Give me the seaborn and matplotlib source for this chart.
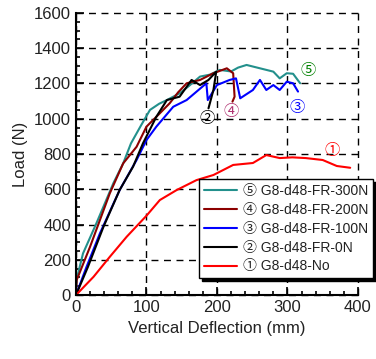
import numpy as np
import pandas as pd
import matplotlib
matplotlib.use("Agg")
import matplotlib.pyplot as plt
import seaborn as sns
from matplotlib.ticker import MultipleLocator

# ---- data ----
labels = ["⑤ G8-d48-FR-300N", "④ G8-d48-FR-200N", "③ G8-d48-FR-100N",
          "② G8-d48-FR-0N", "① G8-d48-No"]
colors = ["#23908c", "#8c0000", "#0000ff", "#000000", "#ff0000"]

x300 = [0, 1, 10, 29, 53, 67, 78, 92, 105, 118, 129, 147, 160, 176, 190, 204, 220, 230, 242, 261, 280, 289, 299, 308, 318]
y300 = [0, 90, 236, 407, 634, 747, 860, 960, 1050, 1085, 1106, 1144, 1185, 1239, 1250, 1277, 1268, 1290, 1305, 1286, 1267, 1229, 1258, 1255, 1201]

x200 = [0, 1, 20, 48, 67, 86, 100, 119, 133, 145, 157, 176, 195, 214, 223, 225, 222]
y200 = [0, 85, 274, 577, 747, 841, 955, 1031, 1088, 1150, 1201, 1220, 1258, 1286, 1258, 1125, 1097]

x100 = [0, 15, 34, 62, 86, 100, 114, 138, 157, 185, 187, 200, 218, 227, 233, 251, 261, 270, 280, 289, 299, 308, 315]
y100 = [0, 160, 350, 596, 766, 879, 955, 1068, 1106, 1201, 1106, 1191, 1220, 1229, 1116, 1163, 1220, 1163, 1191, 1163, 1210, 1201, 1154]

x0 = [0, 17, 39, 62, 81, 95, 114, 129, 147, 164, 176, 188, 199, 195, 188]
y0 = [0, 160, 387, 596, 728, 860, 1011, 1106, 1125, 1220, 1191, 1220, 1267, 1163, 1059]

xno = [0, 25, 48, 72, 100, 119, 143, 171, 195, 223, 251, 270, 289, 307, 326, 350, 370, 389]
yno = [0, 104, 217, 331, 450, 539, 596, 652, 681, 738, 749, 794, 777, 781, 777, 766, 732, 722]

series_x = [x300, x200, x100, x0, xno]
series_y = [y300, y200, y100, y0, yno]

ann_text = ["⑤", "④", "③", "②", "①"]
ann_x = [329, 220, 313, 186, 363]
ann_y = [1268, 1038, 1061, 999, 817]
ann_col = ["#008000", "#b03070", "#0000ff", "#000000", "#ff0000"]

rows = []
for lab, xs, ys in zip(labels, series_x, series_y):
    for i, (a, b) in enumerate(zip(xs, ys)):
        rows.append({"x": a, "y": b, "series": lab, "order": i})
df = pd.DataFrame(rows)

sns.set_style("ticks")
fam = ["Liberation Sans", "Noto Sans CJK SC", "DejaVu Sans"]
plt.rcParams["font.family"] = fam

fig = plt.figure(figsize=(3.76, 3.59), dpi=100)
ax = fig.add_axes([0.202, 0.178, 0.750, 0.786])

sns.lineplot(data=df, x="x", y="y", hue="series", hue_order=labels,
             palette=dict(zip(labels, colors)), sort=False, estimator=None,
             units="series", linewidth=1.5, ax=ax, legend=True)

ax.set_xlim(0, 400)
ax.set_ylim(0, 1600)
ax.xaxis.set_major_locator(MultipleLocator(100))
ax.xaxis.set_minor_locator(MultipleLocator(20))
ax.yaxis.set_major_locator(MultipleLocator(200))
ax.yaxis.set_minor_locator(MultipleLocator(50))
ax.tick_params(which="both", direction="in", top=False, right=False,
               bottom=True, left=True, colors="black", labelsize=12, width=1.2)
ax.tick_params(which="major", length=6, labelcolor="#222222")
ax.tick_params(which="minor", length=3)
ax.grid(True, which="major", color="black", linestyle=(0, (5, 4)), linewidth=1.0)
for gl in ax.get_xgridlines() + ax.get_ygridlines():
    gl.set_clip_on(False)
for name, s in ax.spines.items():
    s.set_color("black")
    s.set_linewidth(1.5)
    s.set_visible(name in ("left", "bottom"))
ax.set_xlabel("Vertical Deflection (mm)", fontsize=12, color="#222222")
ax.set_ylabel("Load (N)", fontsize=12, color="#222222")

for t, xx, yy, c in zip(ann_text, ann_x, ann_y, ann_col):
    ax.text(xx, yy, t, color=c, fontsize=11, ha="center", va="center", family=fam)

leg = ax.legend(loc="upper left", bbox_to_anchor=(0.436, 0.411), frameon=True,
                fancybox=False, shadow={"color": "black", "alpha": 1.0},
                fontsize=10, handlelength=2.4,
                borderpad=0.35, labelspacing=0.35, handletextpad=0.4,
                borderaxespad=0, framealpha=1)
leg.get_frame().set_edgecolor("black")
leg.get_frame().set_linewidth(1.0)
for t in leg.get_texts():
    t.set_color("#222222")

fig.savefig("out.png", dpi=100)
